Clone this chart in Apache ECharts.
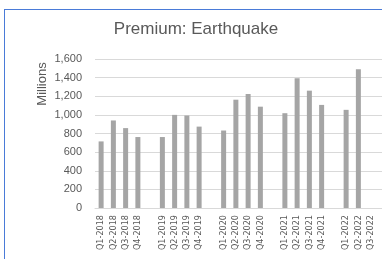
<!DOCTYPE html>
<html>
<head>
<meta charset="utf-8">
<script src="https://cdn.jsdelivr.net/npm/echarts@6/dist/echarts.min.js"></script>
<style>
  html, body { margin: 0; padding: 0; background: #fff; overflow: hidden; width: 382px; height: 259px; }
  #frame { position: absolute; left: 4px; top: 9px; width: 420px; height: 300px; border: 1.5px solid #4a7bd8; }
  #chart { position: absolute; left: 0; top: 0; width: 389px; height: 259px; }
</style>
</head>
<body>
<div id="frame"></div>
<div id="chart"></div>
<script>
// quarters, blank slots are the gaps between years
var categories = [
  "Q1-2018", "Q2-2018", "Q3-2018", "Q4-2018", "",
  "Q1-2019", "Q2-2019", "Q3-2019", "Q4-2019", "",
  "Q1-2020", "Q2-2020", "Q3-2020", "Q4-2020", "",
  "Q1-2021", "Q2-2021", "Q3-2021", "Q4-2021", "",
  "Q1-2022", "Q2-2022", "Q3-2022", ""
];
// premium, millions
var premium = [
  715, 940, 858, 762, null,
  762, 1000, 993, 874, null,
  832, 1163, 1224, 1088, null,
  1018, 1394, 1260, 1107, null,
  1054, 1490, null, null
];
var yTicks = { min: 0, max: 1600, interval: 200 };

var chart = echarts.init(document.getElementById("chart"));
chart.setOption({
  animation: false,
  textStyle: { fontFamily: "Liberation Sans" },
  title: {
    text: "Premium: Earthquake",
    left: 196,
    textAlign: "center",
    top: 21,
    padding: 0,
    textStyle: { fontSize: 17, fontWeight: "normal", color: "#595959" }
  },
  graphic: [{
    type: "text",
    x: 42,
    y: 84,
    rotation: Math.PI / 2,
    style: {
      text: "Millions",
      fill: "#595959",
      fontSize: 13,
      fontFamily: "Liberation Sans",
      align: "center",
      verticalAlign: "middle"
    }
  }],
  grid: { left: 95, right: 0, top: 59, bottom: 51 },
  xAxis: {
    type: "category",
    data: categories,
    axisLine: { lineStyle: { color: "#d9d9d9" } },
    axisTick: { show: false },
    axisLabel: {
      interval: 0,
      rotate: 90,
      fontSize: 9,
      fontFamily: "'DejaVu Sans Condensed', 'Liberation Sans', sans-serif",
      color: "#595959",
      margin: 7
    }
  },
  yAxis: {
    type: "value",
    min: yTicks.min,
    max: yTicks.max,
    interval: yTicks.interval,
    axisLine: { show: false },
    axisTick: { show: false },
    splitLine: { lineStyle: { color: "#d9d9d9" } },
    axisLabel: {
      fontSize: 11,
      color: "#595959",
      margin: 13,
      formatter: function (v) { return v.toLocaleString("en-US"); }
    }
  },
  series: [{
    type: "bar",
    data: premium,
    barWidth: 5,
    itemStyle: { color: "#a5a5a5" }
  }]
});
</script>
</body>
</html>
